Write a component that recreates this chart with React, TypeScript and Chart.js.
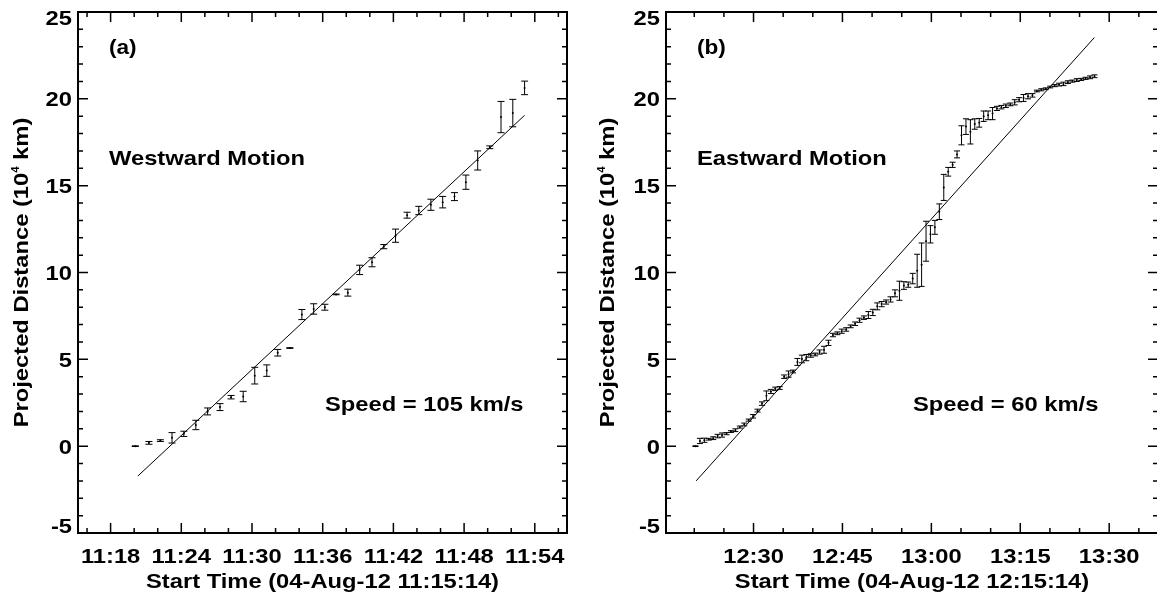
import React, { useEffect, useRef } from 'react';
import { Chart, registerables } from 'chart.js';

Chart.register(...registerables);

const FONT = '"Liberation Sans", Arial, Helvetica, sans-serif';
const STRETCH = 1.13;

// ---------- Panel (a): Westward motion ----------
const startA = '11:15:14';
const majorLabelsA = ['11:18', '11:24', '11:30', '11:36', '11:42', '11:48', '11:54'];
// minutes after 11:15:14
const timeA = [4.86, 6.02, 6.99, 7.98, 8.98, 10.0, 11.0, 12.05, 12.99, 14.02, 15.0, 16.02, 16.95, 17.98, 19.0, 20.0, 20.95,
  21.9, 22.9, 23.9, 24.95, 25.95, 26.95, 27.93, 28.92, 29.95, 30.95, 31.95, 32.92, 33.92, 34.95, 35.9, 36.9, 37.9];
// projected distance (10^4 km)
const distA = [0.0, 0.19, 0.32, 0.48, 0.71, 1.22, 2.0, 2.25, 2.82, 2.86, 4.06, 4.35, 5.38, 5.65, 7.58, 7.9, 8.0,
  8.74, 8.84, 10.15, 10.59, 11.49, 12.12, 13.3, 13.57, 13.9, 14.05, 14.37, 15.2, 16.45, 17.21, 18.95, 19.18, 20.63];
const errA = [0.02, 0.08, 0.05, 0.3, 0.15, 0.27, 0.2, 0.2, 0.1, 0.3, 0.48, 0.33, 0.19, 0.02, 0.29, 0.3, 0.17,
  0.02, 0.2, 0.27, 0.26, 0.12, 0.38, 0.17, 0.24, 0.32, 0.33, 0.23, 0.41, 0.55, 0.08, 0.9, 0.79, 0.39];
const fitTimeA = [5.08, 37.9];
const fitDistA = [-1.72, 19.05];

// ---------- Panel (b): Eastward motion ----------
const startB = '12:15:14';
const majorLabelsB = ['12:30', '12:45', '13:00', '13:15', '13:30'];
// minutes after 12:15:14
const timeB = [4.97, 5.72, 6.47, 7.21, 7.96, 8.71, 9.46, 10.21, 10.95, 11.7, 12.45, 13.2, 13.95, 14.69, 15.44, 16.19,
  16.94, 17.69, 18.43, 19.18, 19.93, 20.68, 21.43, 22.17, 22.92, 23.67, 24.42, 25.17, 25.91, 26.66, 27.41, 28.16,
  28.91, 29.65, 30.4, 31.15, 31.9, 32.65, 33.39, 34.14, 34.89, 35.64, 36.39, 37.13, 37.88, 38.63, 39.38, 40.13,
  40.87, 41.62, 42.37, 43.12, 43.87, 44.61, 45.36, 46.11, 46.86, 47.61, 48.35, 49.1, 49.85, 50.6, 51.35, 52.09,
  52.84, 53.59, 54.34, 55.09, 55.83, 56.58, 57.33, 58.08, 58.83, 59.57, 60.32, 61.07, 61.82, 62.57, 63.31, 64.06,
  64.81, 65.56, 66.31, 67.05, 67.8, 68.55, 69.3, 70.05, 70.79, 71.54, 72.29];
const distB = [0.0, 0.3, 0.34, 0.4, 0.46, 0.58, 0.64, 0.72, 0.84, 0.92, 1.1, 1.25, 1.5, 1.72, 2.05, 2.45,
  2.9, 3.15, 3.3, 3.35, 4.0, 4.15, 4.3, 4.85, 5.02, 5.1, 5.22, 5.28, 5.42, 5.55, 5.95, 6.4,
  6.5, 6.62, 6.72, 6.9, 7.05, 7.25, 7.4, 7.55, 7.7, 8.05, 8.18, 8.3, 8.45, 8.8, 8.95, 9.25,
  9.3, 9.65, 10.1, 10.45, 11.8, 12.2, 12.6, 13.5, 14.9, 15.8, 16.2, 16.8, 17.9, 18.4, 18.1, 18.55,
  18.62, 19.0, 19.05, 19.15, 19.45, 19.52, 19.6, 19.68, 19.8, 19.95, 20.05, 20.15, 20.2, 20.45, 20.52, 20.58,
  20.68, 20.76, 20.82, 20.86, 20.96, 21.02, 21.08, 21.12, 21.18, 21.24, 21.3];
const errB = [0.02, 0.15, 0.12, 0.05, 0.08, 0.1, 0.12, 0.06, 0.05, 0.08, 0.06, 0.08, 0.06, 0.1, 0.08, 0.1,
  0.28, 0.12, 0.1, 0.08, 0.1, 0.18, 0.08, 0.2, 0.22, 0.18, 0.1, 0.08, 0.12, 0.2, 0.15, 0.1,
  0.08, 0.12, 0.1, 0.08, 0.1, 0.12, 0.1, 0.2, 0.18, 0.2, 0.15, 0.12, 0.15, 0.2, 0.55, 0.22,
  0.15, 0.3, 0.95, 1.25, 1.15, 0.5, 0.4, 0.45, 0.75, 0.25, 0.15, 0.2, 0.55, 0.45, 0.7, 0.3,
  0.25, 0.3, 0.25, 0.35, 0.12, 0.1, 0.1, 0.08, 0.15, 0.12, 0.2, 0.15, 0.1, 0.05, 0.06, 0.05,
  0.05, 0.06, 0.08, 0.1, 0.08, 0.06, 0.08, 0.06, 0.06, 0.08, 0.08];
const fitTimeB = [5.08, 72.27];
const fitDistB = [-2.0, 23.53];

const yMajorTicks = [-5, 0, 5, 10, 15, 20, 25];
const yMin = -5;
const yMax = 25;

const toMinutes = (label: string, start: string) => {
  const [h, m, s = 0] = label.split(':').map(Number);
  const [sh, sm, ss = 0] = start.split(':').map(Number);
  return h * 60 + m + s / 60 - (sh * 60 + sm + ss / 60);
};

interface Panel {
  width: number;
  pad: { left: number; right: number; top: number; bottom: number };
  xMax: number;
  start: string;
  majors: string[];
  minorFirst: string;
  minorStep: number;
  time: number[];
  dist: number[];
  err: number[];
  fitT: number[];
  fitD: number[];
  tag: string;
  motion: string;
  speed: string;
  xTitle: string;
  cap: number;
  yTitleOffset: number;
}

const panelA: Panel = {
  width: 578,
  pad: { left: 78, right: 11, top: 12, bottom: 62 },
  xMax: 41.5,
  start: startA,
  majors: majorLabelsA,
  minorFirst: '11:16',
  minorStep: 2,
  time: timeA,
  dist: distA,
  err: errA,
  fitT: fitTimeA,
  fitD: fitDistA,
  tag: '(a)',
  motion: 'Westward Motion',
  speed: 'Speed = 105 km/s',
  xTitle: 'Start Time (04-Aug-12 11:15:14)',
  cap: 3.5,
  yTitleOffset: 50,
};

const panelB: Panel = {
  width: 584,
  pad: { left: 88, right: 4, top: 12, bottom: 62 },
  xMax: 83,
  start: startB,
  majors: majorLabelsB,
  minorFirst: '12:20',
  minorStep: 5,
  time: timeB,
  dist: distB,
  err: errB,
  fitT: fitTimeB,
  fitD: fitDistB,
  tag: '(b)',
  motion: 'Eastward Motion',
  speed: 'Speed = 60 km/s',
  xTitle: 'Start Time (04-Aug-12 12:15:14)',
  cap: 3,
  yTitleOffset: 52,
};

function drawText(ctx: CanvasRenderingContext2D, text: string, x: number, y: number, align: string, size = 21) {
  ctx.save();
  ctx.font = `bold ${size}px ${FONT}`;
  const w = ctx.measureText(text).width * STRETCH;
  const x0 = align === 'left' ? x : align === 'center' ? x - w / 2 : x - w;
  ctx.translate(x0, y);
  ctx.scale(STRETCH, 1);
  ctx.textAlign = 'left';
  ctx.textBaseline = 'alphabetic';
  ctx.fillStyle = '#000';
  ctx.fillText(text, 0, 0);
  ctx.restore();
}

function makePlugin(p: Panel) {
  return {
    id: 'idlFrame',
    afterDatasetsDraw(chart: any) {
      const ctx: CanvasRenderingContext2D = chart.ctx;
      const xs = chart.scales.x;
      const ys = chart.scales.y;
      const { left, right, top, bottom } = chart.chartArea;

      ctx.save();
      // error bars
      ctx.strokeStyle = '#000';
      ctx.lineWidth = 1;
      ctx.beginPath();
      p.time.forEach((t, i) => {
        const x = xs.getPixelForValue(t);
        const y1 = ys.getPixelForValue(p.dist[i] - p.err[i]);
        const y2 = ys.getPixelForValue(p.dist[i] + p.err[i]);
        ctx.moveTo(x, y1);
        ctx.lineTo(x, y2);
        ctx.moveTo(x - p.cap, y1);
        ctx.lineTo(x + p.cap, y1);
        ctx.moveTo(x - p.cap, y2);
        ctx.lineTo(x + p.cap, y2);
      });
      ctx.stroke();

      // frame
      ctx.lineWidth = 2;
      ctx.strokeRect(left, top, right - left, bottom - top);

      // ticks
      ctx.lineWidth = 1.5;
      ctx.beginPath();
      const majorMin = p.majors.map((l) => toMinutes(l, p.start));
      const first = toMinutes(p.minorFirst, p.start);
      for (let m = first; m <= p.xMax + 1e-6; m += p.minorStep) {
        const isMajor = majorMin.some((v) => Math.abs(v - m) < 1e-6);
        const len = isMajor ? 10 : 5;
        const x = xs.getPixelForValue(m);
        ctx.moveTo(x, bottom);
        ctx.lineTo(x, bottom - len);
        ctx.moveTo(x, top);
        ctx.lineTo(x, top + len);
      }
      for (let v = yMin; v <= yMax; v += 1) {
        const isMajor = yMajorTicks.includes(v);
        const len = isMajor ? 10 : 5;
        const y = ys.getPixelForValue(v);
        ctx.moveTo(left, y);
        ctx.lineTo(left + len, y);
        ctx.moveTo(right, y);
        ctx.lineTo(right - len, y);
      }
      ctx.stroke();

      // y tick labels
      yMajorTicks.forEach((v) => {
        const y = ys.getPixelForValue(v);
        let base = y + 7.5;
        if (v === yMax) base = top + 13;
        if (v === yMin) base = bottom;
        drawText(ctx, String(v), left - 6, base, 'right');
      });
      // x tick labels
      p.majors.forEach((l, i) => {
        drawText(ctx, l, xs.getPixelForValue(majorMin[i]), 563, 'center');
      });

      // x title
      drawText(ctx, p.xTitle, (left + right) / 2, 588, 'center');

      // y title with superscript
      ctx.save();
      ctx.translate(left - p.yTitleOffset, (top + bottom) / 2);
      ctx.rotate(-Math.PI / 2);
      const parts = [
        { t: 'Projected Distance (10', s: 21, dy: 0 },
        { t: '4', s: 10, dy: -9 },
        { t: ' km)', s: 21, dy: 0 },
      ];
      let total = 0;
      const widths = parts.map((pt) => {
        ctx.font = `bold ${pt.s}px ${FONT}`;
        const w = ctx.measureText(pt.t).width * STRETCH;
        total += w;
        return w;
      });
      let cx = -total / 2;
      parts.forEach((pt, i) => {
        ctx.save();
        ctx.translate(cx, pt.dy);
        ctx.scale(STRETCH, 1);
        ctx.font = `bold ${pt.s}px ${FONT}`;
        ctx.fillStyle = '#000';
        ctx.textAlign = 'left';
        ctx.textBaseline = 'alphabetic';
        ctx.fillText(pt.t, 0, 0);
        ctx.restore();
        cx += widths[i];
      });
      ctx.restore();

      // annotations
      drawText(ctx, p.tag, left + 31, 54, 'left', 20);
      drawText(ctx, p.motion, left + 31, 165, 'left');
      drawText(ctx, p.speed, left + 247, 411, 'left');

      ctx.restore();
    },
  };
}

function PanelChart({ panel, x }: { panel: Panel; x: number }) {
  const ref = useRef<HTMLCanvasElement | null>(null);
  useEffect(() => {
    if (!ref.current) return;
    const chart = new Chart(ref.current, {
      type: 'scatter',
      data: {
        datasets: [
          {
            data: panel.time.map((t, i) => ({ x: t, y: panel.dist[i] })),
            showLine: false,
            pointRadius: 1,
            pointBorderWidth: 0,
            pointBackgroundColor: '#000',
          },
          {
            data: panel.fitT.map((t, i) => ({ x: t, y: panel.fitD[i] })),
            showLine: true,
            borderColor: '#000',
            borderWidth: 1,
            pointRadius: 0,
          },
        ],
      },
      options: {
        responsive: false,
        animation: false,
        layout: { padding: panel.pad },
        plugins: { legend: { display: false }, tooltip: { enabled: false } },
        scales: {
          x: { type: 'linear', min: 0, max: panel.xMax, display: false },
          y: { type: 'linear', min: yMin, max: yMax, display: false },
        },
      },
      plugins: [makePlugin(panel)],
    } as any);
    return () => chart.destroy();
  }, [panel]);
  return (
    <canvas
      ref={ref}
      width={panel.width}
      height={595}
      style={{ position: 'absolute', left: x, top: 0, display: 'block' }}
    />
  );
}

export default function App() {
  return (
    <div
      style={{
        position: 'fixed',
        left: 0,
        top: 0,
        width: 1157,
        height: 595,
        overflow: 'hidden',
        background: '#fff',
      }}
    >
      <PanelChart panel={panelA} x={0} />
      <PanelChart panel={panelB} x={578} />
    </div>
  );
}
